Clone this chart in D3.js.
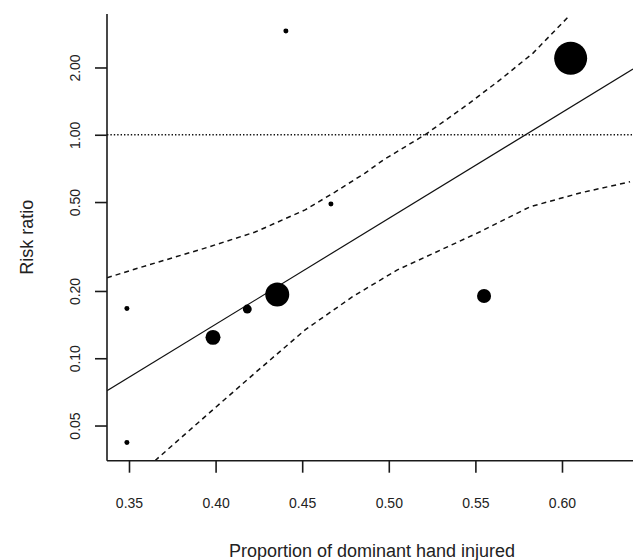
<!DOCTYPE html>
<html>
<head>
<meta charset="utf-8">
<script src="https://cdn.jsdelivr.net/npm/d3@7"></script>
<style>
  body { margin: 0; background: #fff; }
  svg { display: block; font-family: "Liberation Sans", Arial, sans-serif; }
</style>
</head>
<body>
<div class="container"></div>
<script>
// study points: proportion dominant hand, risk ratio, weight (%)
const propDominant = [0.3488, 0.3488, 0.3985, 0.4183, 0.4356, 0.4406, 0.4666, 0.555, 0.605];
const riskRatio = [0.167, 0.042, 0.124, 0.166, 0.193, 2.91, 0.49, 0.19, 2.2];
const studyWeight = [1.1, 1.1, 9.9, 3.5, 25.4, 1.1, 1.1, 8.7, 48.1];

// meta-regression fit (straight on log scale)
const fitX = [0.3373, 0.641];
const fitRR = [0.0715, 1.97];

// confidence bands
const upperX = [0.3373, 0.3552, 0.3939, 0.4228, 0.4517, 0.4689, 0.4863, 0.4967, 0.5209, 0.5452, 0.5642, 0.5833, 0.6046];
const upperRR = [0.229, 0.253, 0.311, 0.367, 0.461, 0.554, 0.674, 0.770, 1.0, 1.36, 1.76, 2.32, 3.43];
const lowerX = [0.3650, 0.3939, 0.4228, 0.4517, 0.4793, 0.5047, 0.5238, 0.5527, 0.5815, 0.6104, 0.6393];
const lowerRR = [0.0348, 0.0548, 0.0860, 0.134, 0.189, 0.248, 0.290, 0.368, 0.476, 0.549, 0.616];

const xTicks = [0.35, 0.40, 0.45, 0.50, 0.55, 0.60];
const yTicks = [0.05, 0.10, 0.20, 0.50, 1.00, 2.00];

const width = 633;
const height = 560;
const plotLeft = 107, plotRight = 633, plotTop = 14, plotBottom = 460.7;

const svg = d3.select(".container").append("svg").attr("width", width).attr("height", height);

const x = d3.scaleLinear().domain([0.3373, 0.641]).range([plotLeft, plotRight]);
const y = d3.scaleLog().domain([0.0348, 3.47]).range([plotBottom, plotTop]);
const r = d3.scaleSqrt().domain([0, 48.1]).range([0, 16.5]);

svg.append("clipPath").attr("id", "plot")
  .append("rect").attr("x", plotLeft).attr("y", plotTop)
    .attr("width", plotRight - plotLeft).attr("height", plotBottom - plotTop);

const plot = svg.append("g").attr("clip-path", "url(#plot)");

// reference line at RR = 1
plot.append("line")
    .attr("x1", plotLeft).attr("x2", plotRight)
    .attr("y1", y(1)).attr("y2", y(1))
    .attr("stroke", "#111").attr("stroke-width", 1.4)
    .attr("stroke-dasharray", "1.4,2");

const line = d3.line().x(d => x(d[0])).y(d => y(d[1]));

plot.append("path")
    .attr("d", line(d3.zip(fitX, fitRR)))
    .attr("fill", "none").attr("stroke", "#111").attr("stroke-width", 1.2);

[d3.zip(upperX, upperRR), d3.zip(lowerX, lowerRR)].forEach(band => {
  plot.append("path")
      .attr("d", line(band))
      .attr("fill", "none").attr("stroke", "#111").attr("stroke-width", 1.5)
      .attr("stroke-dasharray", "5,4");
});

plot.selectAll("circle")
    .data(d3.range(propDominant.length))
    .enter().append("circle")
      .attr("cx", i => x(propDominant[i]))
      .attr("cy", i => y(riskRatio[i]))
      .attr("r", i => r(studyWeight[i]))
      .attr("fill", "#000");

// axes
const xAxis = svg.append("g")
    .attr("transform", `translate(0,${plotBottom})`)
    .call(d3.axisBottom(x).tickValues(xTicks).tickFormat(d3.format(".2f")).tickSize(12).tickPadding(25));
xAxis.select(".domain").attr("d", `M${plotLeft},0H${plotRight}`);

const yAxis = svg.append("g")
    .attr("transform", `translate(${plotLeft},0)`)
    .call(d3.axisLeft(y).tickValues(yTicks).tickFormat(d3.format(".2f")).tickSize(12));
yAxis.select(".domain").attr("d", `M0,${plotTop}V${plotBottom}`);

svg.selectAll(".domain, .tick line").attr("stroke", "#1a1a1a").attr("stroke-width", 1.6);
svg.selectAll(".tick text").attr("fill", "#222").style("font-size", "14px")
    .style("font-family", "'Liberation Sans', Arial, sans-serif");

yAxis.selectAll(".tick text")
    .attr("x", null).attr("dy", null)
    .attr("text-anchor", "middle")
    .attr("transform", "translate(-27,0) rotate(-90)");

// titles
svg.append("text")
    .attr("x", (plotLeft + plotRight) / 2 + 2).attr("y", 557)
    .attr("text-anchor", "middle")
    .style("font-size", "18px").attr("fill", "#222")
    .text("Proportion of dominant hand injured");

svg.append("text")
    .attr("transform", `translate(33,${(plotTop + plotBottom) / 2}) rotate(-90)`)
    .attr("text-anchor", "middle")
    .style("font-size", "18px").attr("fill", "#222")
    .text("Risk ratio");
</script>
</body>
</html>
